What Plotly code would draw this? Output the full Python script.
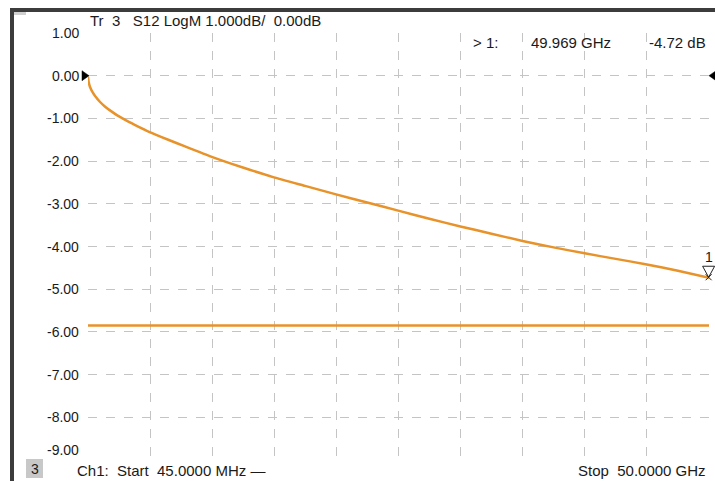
import plotly.graph_objects as go

# ---- data ----
freq_ghz = [0.045, 0.1, 0.2, 0.4, 0.6, 1.0, 1.4, 1.9, 2.4, 3.0, 3.8, 5.0, 6.5, 7.8, 10.0,
            12.5, 15.0, 17.5, 20.0, 22.5, 25.0, 27.5, 30.0, 32.5, 35.0, 37.5, 40.0, 42.5,
            45.0, 47.5, 50.0]
s12_db = [-0.02, -0.15, -0.26, -0.38, -0.47, -0.61, -0.72, -0.83, -0.93, -1.03, -1.15,
          -1.32, -1.50, -1.65, -1.90, -2.15, -2.38, -2.58, -2.78, -2.97, -3.16, -3.35,
          -3.53, -3.70, -3.87, -4.02, -4.16, -4.29, -4.42, -4.57, -4.73]
ref_freq_ghz = [0.045, 50.0]
ref_db = [-5.85, -5.85]
marker_freq = 49.969
marker_db = -4.72
ytick_vals = [1, 0, -1, -2, -3, -4, -5, -6, -7, -8, -9]
ytick_labels = ["1.00", "0.00", "-1.00", "-2.00", "-3.00", "-4.00", "-5.00",
                "-6.00", "-7.00", "-8.00", "-9.00"]
xgrid_vals = [0.045, 5.0405, 10.036, 15.0315, 20.027, 25.0225, 30.018,
              35.0135, 40.009, 45.0045, 50.0]
X_RANGE = [0.045, 50.0]
Y_RANGE = [-9, 1]

# ---- geometry ----
W, H = 715, 481
L, R, T, B = 88, 6, 33, 21
PW, PH = W - L - R, H - T - B
FONT = "Liberation Sans"
TXT = "#1a1a1a"
ORANGE = "#E8922A"


def xp(px):
    return (px - L) / PW


def yp(py):
    return 1 - (py - T) / PH


fig = go.Figure()
fig.add_trace(go.Scatter(x=freq_ghz, y=s12_db, mode="lines",
                         line=dict(color=ORANGE, width=2.5, shape="spline", smoothing=0.5),
                         hoverinfo="skip", showlegend=False))
fig.add_trace(go.Scatter(x=ref_freq_ghz, y=ref_db, mode="lines",
                         line=dict(color=ORANGE, width=2.5),
                         hoverinfo="skip", showlegend=False))

grid = dict(showgrid=True, gridcolor="#c4c4c4", gridwidth=1, griddash="dash",
            zeroline=False, showline=False, showticklabels=False, ticks="")
fig.update_xaxes(range=X_RANGE, tickmode="array", tickvals=xgrid_vals, **grid)
fig.update_yaxes(range=Y_RANGE, tickmode="array", tickvals=ytick_vals, **grid)

ann = []
for v, lab in zip(ytick_vals, ytick_labels):
    ann.append(dict(x=0, xref="paper", y=v, yref="y", text=lab, showarrow=False,
                    xanchor="right", yanchor="middle", xshift=-7,
                    yshift=(10 if v == -9 else 0),
                    font=dict(family=FONT, size=14, color=TXT)))


def txt(px, py, s, anchor="left", size=15):
    ann.append(dict(x=xp(px), xref="paper", y=yp(py), yref="paper", text=s,
                    showarrow=False, xanchor=anchor, yanchor="middle",
                    font=dict(family=FONT, size=size, color=TXT)))


txt(88, 21, "Tr&nbsp;&nbsp;3&nbsp;&nbsp;&nbsp;S12 LogM 1.000dB/&nbsp;&nbsp;0.00dB")
txt(471, 42, ">&nbsp;1:")
txt(613, 42, f"{marker_freq:.3f} GHz", anchor="right")
txt(708, 42, f"{marker_db:.2f} dB", anchor="right")
txt(75, 470, "Ch1:&nbsp;&nbsp;Start&nbsp;&nbsp;45.0000 MHz —")
txt(708, 470, "Stop&nbsp;&nbsp;50.0000 GHz", anchor="right")
txt(34.5, 469, "3", anchor="center", size=14)

# marker label
ann.append(dict(x=marker_freq, xref="x", y=marker_db, yref="y", text="1", showarrow=False,
                xanchor="center", yanchor="bottom", yshift=10,
                font=dict(family=FONT, size=14, color=TXT)))

marker_xpaper = (marker_freq - X_RANGE[0]) / (X_RANGE[1] - X_RANGE[0])

shapes = [
    # channel number box
    dict(type="rect", xref="paper", yref="paper", x0=xp(26), x1=xp(43), y0=yp(478), y1=yp(459),
         fillcolor="#c8c8c8", line=dict(width=0), layer="below"),
    # outer frame
    dict(type="rect", xref="paper", yref="paper", x0=xp(10), x1=xp(14), y0=yp(481), y1=yp(8),
         fillcolor="#3c3c3c", line=dict(width=0)),
    dict(type="rect", xref="paper", yref="paper", x0=xp(10), x1=xp(715), y0=yp(12), y1=yp(8),
         fillcolor="#3c3c3c", line=dict(width=0)),
    dict(type="rect", xref="paper", yref="paper", x0=xp(14), x1=xp(26), y0=yp(15), y1=yp(12),
         fillcolor="#d0d0d0", line=dict(width=0)),
    # reference level arrows
    dict(type="path", xref="paper", yref="y", xsizemode="pixel", ysizemode="pixel",
         xanchor=0, yanchor=0, path="M -6,5 L 1,0 L -6,-5 Z",
         fillcolor="black", line=dict(color="black", width=0.5)),
    dict(type="path", xref="paper", yref="y", xsizemode="pixel", ysizemode="pixel",
         xanchor=1, yanchor=0, path="M 0,0 L 7,5 L 7,-5 Z",
         fillcolor="black", line=dict(color="black", width=0.5)),
    # marker triangle (open, tip on the trace)
    dict(type="path", xref="paper", yref="y", xsizemode="pixel", ysizemode="pixel",
         xanchor=marker_xpaper, yanchor=marker_db, path="M -6,11 L 6,11 L 0,0 Z",
         line=dict(color="#222222", width=1)),
    dict(type="path", xref="paper", yref="y", xsizemode="pixel", ysizemode="pixel",
         xanchor=marker_xpaper, yanchor=marker_db, path="M -3,3 L 3,-3 M -3,-3 L 3,3",
         line=dict(color="#222222", width=1)),
]

fig.update_layout(width=W, height=H, margin=dict(l=L, r=R, t=T, b=B),
                  paper_bgcolor="white", plot_bgcolor="white",
                  annotations=ann, shapes=shapes, showlegend=False)
fig.write_html("out.html", config={"displayModeBar": False},
               post_script="document.body.style.margin='0';document.body.style.overflow='hidden';")
